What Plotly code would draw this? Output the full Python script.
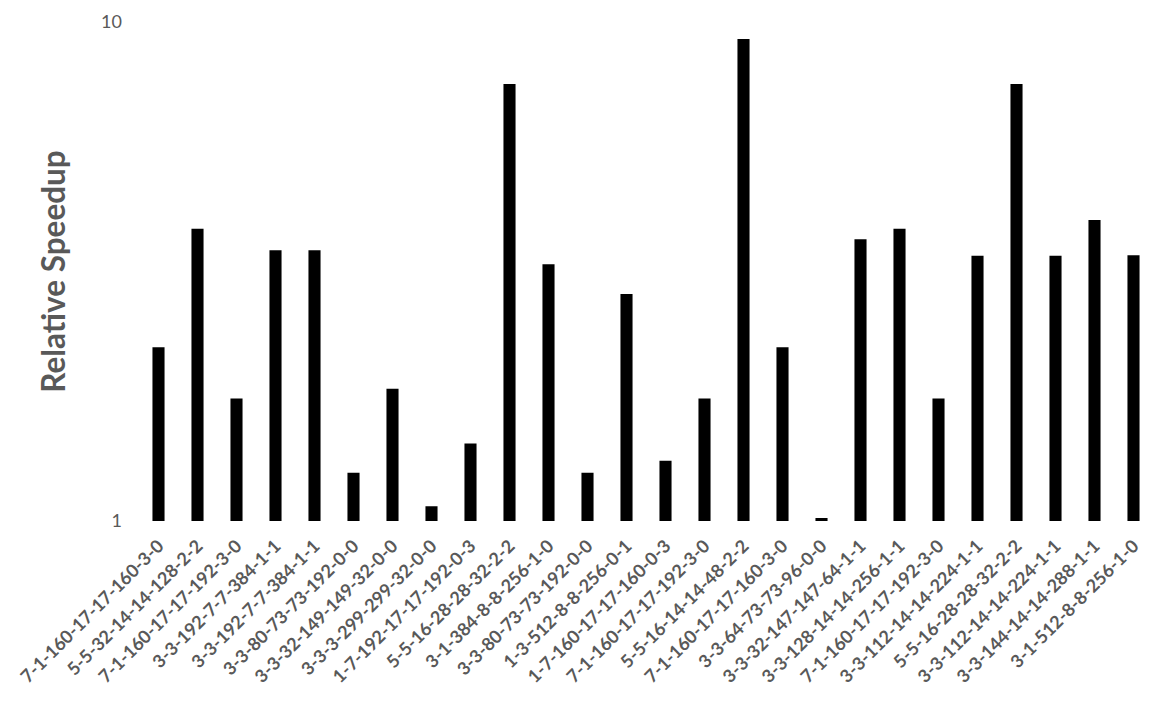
import plotly.graph_objects as go

FONT_COLOR = '#595959'
GRID_COLOR = '#d9d9d9'

# DATA:
configs = [
    '7-1-160-17-17-160-3-0', '5-5-32-14-14-128-2-2', '7-1-160-17-17-192-3-0',
    '3-3-192-7-7-384-1-1', '3-3-192-7-7-384-1-1', '3-3-80-73-73-192-0-0',
    '3-3-32-149-149-32-0-0', '3-3-3-299-299-32-0-0', '1-7-192-17-17-192-0-3',
    '5-5-16-28-28-32-2-2', '3-1-384-8-8-256-1-0', '3-3-80-73-73-192-0-0',
    '1-3-512-8-8-256-0-1', '1-7-160-17-17-160-0-3', '7-1-160-17-17-192-3-0',
    '5-5-16-14-14-48-2-2', '7-1-160-17-17-160-3-0', '3-3-64-73-73-96-0-0',
    '3-3-32-147-147-64-1-1', '3-3-128-14-14-256-1-1', '7-1-160-17-17-192-3-0',
    '3-3-112-14-14-224-1-1', '5-5-16-28-28-32-2-2', '3-3-112-14-14-224-1-1',
    '3-3-144-14-14-288-1-1', '3-1-512-8-8-256-1-0',
]
speedup = [
    2.23, 3.85, 1.76, 3.49, 3.49, 1.25, 1.84, 1.07, 1.43, 7.51,
    3.27, 1.25, 2.85, 1.32, 1.76, 9.25, 2.23, 1.014, 3.67, 3.85,
    1.76, 3.40, 7.51, 3.40, 4.01, 3.41,
]
# labels repeat, so bars sit on positions and the text goes on the ticks
positions = list(range(len(configs)))

# PLOT BAR CHART:
fig = go.Figure(go.Bar(
    x=positions,
    y=speedup,
    base=0,
    width=0.31,
    marker=dict(color='black', line=dict(width=0)),
))

# page body has an 8px margin, so the figure is a bit smaller than the window
fig.update_layout(
    width=1159,
    height=686,
    plot_bgcolor='white',
    paper_bgcolor='white',
    showlegend=False,
    margin=dict(t=14, b=173, l=131, r=14),
    font=dict(family='Lato', color=FONT_COLOR),
    xaxis=dict(
        range=[-0.5, len(configs) - 0.5],
        tickvals=positions,
        ticktext=configs,
        tickangle=-45,
        tickfont=dict(size=18, family='Lato', weight='bold', color=FONT_COLOR),
        ticklabelstandoff=10,
        ticklabeloverflow='allow',
        showgrid=False,
        zeroline=False,
        showline=False,
        automargin=False,
    ),
    yaxis=dict(
        type='log',
        range=[0, 1],
        tickvals=[1, 10],
        ticktext=['1', '10'],
        tickfont=dict(size=18, color=FONT_COLOR),
        ticklabelstandoff=16,
        showgrid=True,
        gridcolor=GRID_COLOR,
        gridwidth=1.5,
        zeroline=False,
        showline=False,
        automargin=False,
        title=dict(
            text='Relative Speedup',
            font=dict(size=31.5, family='Lato', weight='bold', color=FONT_COLOR),
            standoff=26,
        ),
    ),
)

fig.write_html('out.html')
